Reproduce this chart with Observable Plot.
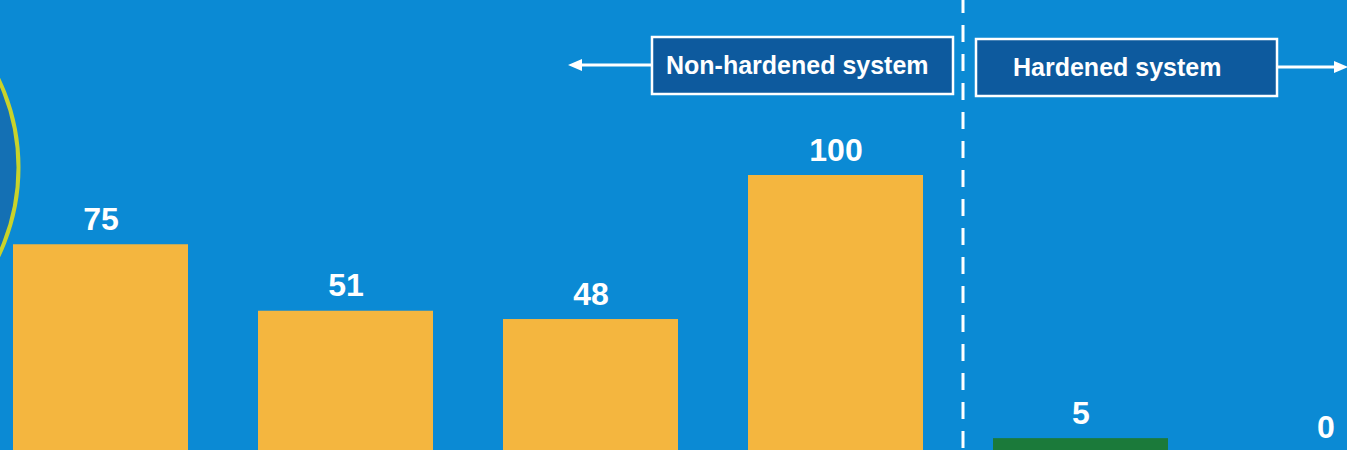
<!DOCTYPE html>
<html>
<head>
<meta charset="utf-8">
<script src="https://cdn.jsdelivr.net/npm/d3@7"></script>
<script src="https://cdn.jsdelivr.net/npm/@observablehq/plot@0.6"></script>
<style>
  html, body { margin: 0; padding: 0; background: #0b8ad4; overflow: hidden; }
  #chart svg { display: block; }
</style>
</head>
<body>
<div id="chart"></div>
<script>
// Data
const categories = ["Bar 1", "Bar 2", "Bar 3", "Bar 4", "Bar 5", "Bar 6"];
const values = [75, 51, 48, 100, 5, 0];
const groups = ["Non-hardened", "Non-hardened", "Non-hardened", "Non-hardened", "Hardened", "Hardened"];
const groupLabels = ["Non-hardened system", "Hardened system"];

const data = categories.map((c, i) => ({category: c, value: values[i], group: groups[i]}));

const W = 1347, H = 450;
const chart = Plot.plot({
  width: W,
  height: H,
  margin: 0,
  style: {background: "#0b8ad4", overflow: "hidden"},
  x: {domain: categories, range: [-57, 1483], padding: 0.2857, axis: null},
  y: {domain: [0, 100], range: [452, 175], axis: null},
  color: {domain: ["Non-hardened", "Hardened"], range: ["#f4b63f", "#1b7a3a"]},
  marks: [
    // decorative circle at left edge
    Plot.dot([0], {frameAnchor: "top-left", dx: -187, dy: 167, r: 205, fill: "#1470b4", stroke: "#c9d32a", strokeWidth: 4}),
    Plot.barY(data, {x: "category", y: "value", fill: "group"}),
    Plot.text(data, {x: "category", y: "value", text: d => String(d.value), fill: "white", fontSize: 32, fontWeight: "bold", fontFamily: "Liberation Sans, Arial, sans-serif", lineAnchor: "bottom", dy: -15})
  ]
});
document.getElementById("chart").appendChild(chart);

// Annotations placed from the x scale
const xs = chart.scale("x");
const bw = xs.bandwidth;
const end4 = xs.apply(categories[3]) + bw;
const start5 = xs.apply(categories[4]);
const divX = (end4 + start5) / 2 + 5;
const svg = d3.select(chart);
const g = svg.append("g").attr("text-anchor", "start");
g.append("line").attr("x1", divX).attr("x2", divX).attr("y1", -4).attr("y2", H)
  .attr("stroke", "white").attr("stroke-width", 3).attr("stroke-dasharray", "17,12");

// Non-hardened box
const b1 = {x: divX - 311, y: 37, w: 301, h: 57};
g.append("rect").attr("x", b1.x).attr("y", b1.y).attr("width", b1.w).attr("height", b1.h)
  .attr("fill", "#0d5a9e").attr("stroke", "white").attr("stroke-width", 2.5);
g.append("text").attr("x", b1.x + 14).attr("y", b1.y + b1.h / 2).attr("dy", "0.35em")
  .attr("text-anchor", "start")
  .attr("fill", "white").attr("font-size", 25).attr("font-weight", "bold")
  .attr("font-family", "Liberation Sans, Arial, sans-serif").text(groupLabels[0]);
g.append("line").attr("x1", b1.x).attr("x2", b1.x - 72).attr("y1", 65).attr("y2", 65)
  .attr("stroke", "white").attr("stroke-width", 3);
g.append("path").attr("d", `M${b1.x - 84},65 L${b1.x - 70},59 L${b1.x - 70},71 Z`).attr("fill", "white");

// Hardened box
const b2 = {x: divX + 13, y: 39, w: 301, h: 57};
g.append("rect").attr("x", b2.x).attr("y", b2.y).attr("width", b2.w).attr("height", b2.h)
  .attr("fill", "#0d5a9e").attr("stroke", "white").attr("stroke-width", 2.5);
g.append("text").attr("x", b2.x + 37).attr("y", b2.y + b2.h / 2).attr("dy", "0.35em")
  .attr("text-anchor", "start")
  .attr("fill", "white").attr("font-size", 25).attr("font-weight", "bold")
  .attr("font-family", "Liberation Sans, Arial, sans-serif").text(groupLabels[1]);
const ax2 = b2.x + b2.w;
g.append("line").attr("x1", ax2).attr("x2", ax2 + 58).attr("y1", 67).attr("y2", 67)
  .attr("stroke", "white").attr("stroke-width", 3);
g.append("path").attr("d", `M${ax2 + 71},67 L${ax2 + 57},61 L${ax2 + 57},73 Z`).attr("fill", "white");
</script>
</body>
</html>
